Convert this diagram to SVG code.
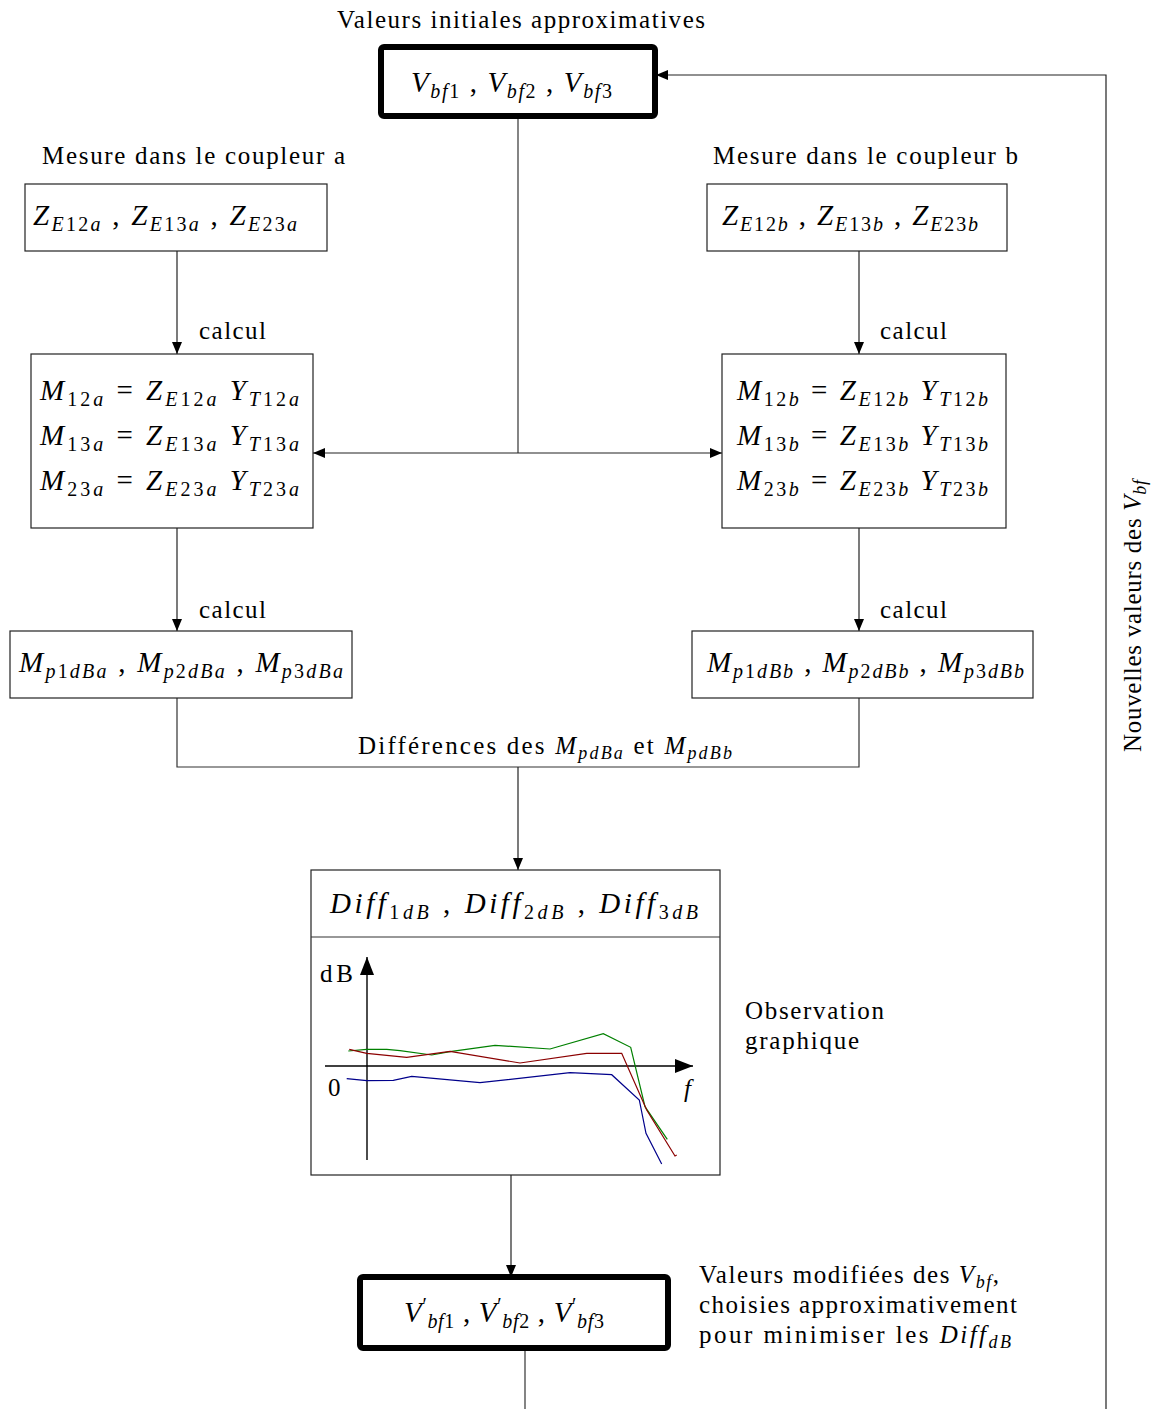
<svg xmlns="http://www.w3.org/2000/svg" width="1154" height="1409" viewBox="0 0 1154 1409">
<defs>
<marker id="ah" viewBox="0 0 12 10" refX="12" refY="5" markerWidth="12" markerHeight="10" markerUnits="userSpaceOnUse" orient="auto"><path d="M0,0 L12,5 L0,10 z" fill="#000"/></marker>
<marker id="ah2" viewBox="0 0 18 14" refX="18" refY="7" markerWidth="18" markerHeight="14" markerUnits="userSpaceOnUse" orient="auto"><path d="M0,0 L18,7 L0,14 z" fill="#000"/></marker>
</defs>
<style>
text{font-family:"Liberation Serif","Times New Roman",serif;fill:#000}
.t{font-size:25px}
.m{font-size:29px}
.i{font-style:italic}
.box{fill:#fff;stroke:#222;stroke-width:1.2}
.bold{fill:#fff;stroke:#000;stroke-width:6}
.ln{fill:none;stroke:#333;stroke-width:1.2}
.ar{fill:none;stroke:#222;stroke-width:1.2;marker-end:url(#ah)}
</style>
<rect width="1154" height="1409" fill="#fff"/>

<g id="connectors">
<polyline class="ln" points="518,116 518,453"/>
<line class="ar" x1="518" y1="453" x2="313" y2="453"/>
<line class="ar" x1="518" y1="453" x2="722" y2="453"/>
<polyline class="ar" points="1106,1409 1106,75 656,75"/>
<line class="ar" x1="177" y1="251" x2="177" y2="354"/>
<line class="ar" x1="859" y1="251" x2="859" y2="354"/>
<line class="ar" x1="177" y1="528" x2="177" y2="631"/>
<line class="ar" x1="859" y1="528" x2="859" y2="631"/>
<polyline class="ln" points="177,698 177,767 859,767 859,698"/>
<line class="ar" x1="518" y1="767" x2="518" y2="870"/>
<line class="ar" x1="511" y1="1175" x2="511" y2="1277"/>
<line class="ln" x1="525" y1="1348" x2="525" y2="1409"/>
<text class="t" x="199" y="339" textLength="67" lengthAdjust="spacing">calcul</text>
<text class="t" x="880" y="339" textLength="67" lengthAdjust="spacing">calcul</text>
<text class="t" x="199" y="618" textLength="67" lengthAdjust="spacing">calcul</text>
<text class="t" x="880" y="618" textLength="67" lengthAdjust="spacing">calcul</text>
<text class="t" x="358" y="754" textLength="374" lengthAdjust="spacing">Différences des <tspan class="i">M</tspan><tspan class="i" font-size="18" dy="5">pdBa</tspan><tspan dy="-5"> et </tspan><tspan class="i">M</tspan><tspan class="i" font-size="18" dy="5">pdBb</tspan></text>
<text x="1141" y="616" class="t" text-anchor="middle" textLength="272" lengthAdjust="spacing" transform="rotate(-90 1141 616)">Nouvelles valeurs des <tspan class="i">V</tspan><tspan class="i" font-size="18" dy="5">bf</tspan></text>
</g>

<g id="title">
<text class="t" x="337" y="28" textLength="368" lengthAdjust="spacing">Valeurs initiales approximatives</text>
</g>

<g id="vbf">
<rect class="bold" x="381" y="47" width="274" height="69" rx="3"/>
<text class="m" x="411" y="92" textLength="201" lengthAdjust="spacing"><tspan class="i">V</tspan><tspan font-size="20" dy="6"><tspan class="i">bf</tspan>1</tspan><tspan dy="-6"> , </tspan><tspan class="i">V</tspan><tspan font-size="20" dy="6"><tspan class="i">bf</tspan>2</tspan><tspan dy="-6"> , </tspan><tspan class="i">V</tspan><tspan font-size="20" dy="6"><tspan class="i">bf</tspan>3</tspan></text>
</g>

<g id="labelA"><text class="t" x="42" y="164" textLength="303" lengthAdjust="spacing">Mesure dans le coupleur a</text></g>
<g id="labelB"><text class="t" x="713" y="164" textLength="305" lengthAdjust="spacing">Mesure dans le coupleur b</text></g>

<g id="ZA">
<rect class="box" x="25" y="184" width="302" height="67"/>
<text class="m" x="33" y="225" textLength="264" lengthAdjust="spacing"><tspan class="i">Z</tspan><tspan font-size="20" dy="6"><tspan class="i">E</tspan>12<tspan class="i">a</tspan></tspan><tspan dy="-6"> , </tspan><tspan class="i">Z</tspan><tspan font-size="20" dy="6"><tspan class="i">E</tspan>13<tspan class="i">a</tspan></tspan><tspan dy="-6"> , </tspan><tspan class="i">Z</tspan><tspan font-size="20" dy="6"><tspan class="i">E</tspan>23<tspan class="i">a</tspan></tspan></text>
</g>
<g id="ZB">
<rect class="box" x="707" y="184" width="300" height="67"/>
<text class="m" x="722" y="225" textLength="256" lengthAdjust="spacing"><tspan class="i">Z</tspan><tspan font-size="20" dy="6"><tspan class="i">E</tspan>12<tspan class="i">b</tspan></tspan><tspan dy="-6"> , </tspan><tspan class="i">Z</tspan><tspan font-size="20" dy="6"><tspan class="i">E</tspan>13<tspan class="i">b</tspan></tspan><tspan dy="-6"> , </tspan><tspan class="i">Z</tspan><tspan font-size="20" dy="6"><tspan class="i">E</tspan>23<tspan class="i">b</tspan></tspan></text>
</g>

<g id="MA">
<rect class="box" x="31" y="354" width="282" height="174"/>
<text class="m" x="40" y="400" textLength="259" lengthAdjust="spacing"><tspan class="i">M</tspan><tspan font-size="20" dy="6">12<tspan class="i">a</tspan></tspan><tspan dy="-6">  =  </tspan><tspan class="i">Z</tspan><tspan font-size="20" dy="6"><tspan class="i">E</tspan>12<tspan class="i">a</tspan></tspan><tspan dy="-6" class="i"> Y</tspan><tspan font-size="20" dy="6"><tspan class="i">T</tspan>12<tspan class="i">a</tspan></tspan></text>
<text class="m" x="40" y="445" textLength="259" lengthAdjust="spacing"><tspan class="i">M</tspan><tspan font-size="20" dy="6">13<tspan class="i">a</tspan></tspan><tspan dy="-6">  =  </tspan><tspan class="i">Z</tspan><tspan font-size="20" dy="6"><tspan class="i">E</tspan>13<tspan class="i">a</tspan></tspan><tspan dy="-6" class="i"> Y</tspan><tspan font-size="20" dy="6"><tspan class="i">T</tspan>13<tspan class="i">a</tspan></tspan></text>
<text class="m" x="40" y="490" textLength="259" lengthAdjust="spacing"><tspan class="i">M</tspan><tspan font-size="20" dy="6">23<tspan class="i">a</tspan></tspan><tspan dy="-6">  =  </tspan><tspan class="i">Z</tspan><tspan font-size="20" dy="6"><tspan class="i">E</tspan>23<tspan class="i">a</tspan></tspan><tspan dy="-6" class="i"> Y</tspan><tspan font-size="20" dy="6"><tspan class="i">T</tspan>23<tspan class="i">a</tspan></tspan></text>
</g>
<g id="MB">
<rect class="box" x="722" y="354" width="284" height="174"/>
<text class="m" x="737" y="400" textLength="251" lengthAdjust="spacing"><tspan class="i">M</tspan><tspan font-size="20" dy="6">12<tspan class="i">b</tspan></tspan><tspan dy="-6">  =  </tspan><tspan class="i">Z</tspan><tspan font-size="20" dy="6"><tspan class="i">E</tspan>12<tspan class="i">b</tspan></tspan><tspan dy="-6" class="i"> Y</tspan><tspan font-size="20" dy="6"><tspan class="i">T</tspan>12<tspan class="i">b</tspan></tspan></text>
<text class="m" x="737" y="445" textLength="251" lengthAdjust="spacing"><tspan class="i">M</tspan><tspan font-size="20" dy="6">13<tspan class="i">b</tspan></tspan><tspan dy="-6">  =  </tspan><tspan class="i">Z</tspan><tspan font-size="20" dy="6"><tspan class="i">E</tspan>13<tspan class="i">b</tspan></tspan><tspan dy="-6" class="i"> Y</tspan><tspan font-size="20" dy="6"><tspan class="i">T</tspan>13<tspan class="i">b</tspan></tspan></text>
<text class="m" x="737" y="490" textLength="251" lengthAdjust="spacing"><tspan class="i">M</tspan><tspan font-size="20" dy="6">23<tspan class="i">b</tspan></tspan><tspan dy="-6">  =  </tspan><tspan class="i">Z</tspan><tspan font-size="20" dy="6"><tspan class="i">E</tspan>23<tspan class="i">b</tspan></tspan><tspan dy="-6" class="i"> Y</tspan><tspan font-size="20" dy="6"><tspan class="i">T</tspan>23<tspan class="i">b</tspan></tspan></text>
</g>

<g id="MPA">
<rect class="box" x="10" y="631" width="342" height="67"/>
<text class="m" x="19" y="672" textLength="324" lengthAdjust="spacing"><tspan class="i">M</tspan><tspan font-size="20" dy="6"><tspan class="i">p</tspan>1<tspan class="i">dBa</tspan></tspan><tspan dy="-6"> , </tspan><tspan class="i">M</tspan><tspan font-size="20" dy="6"><tspan class="i">p</tspan>2<tspan class="i">dBa</tspan></tspan><tspan dy="-6"> , </tspan><tspan class="i">M</tspan><tspan font-size="20" dy="6"><tspan class="i">p</tspan>3<tspan class="i">dBa</tspan></tspan></text>
</g>
<g id="MPB">
<rect class="box" x="692" y="631" width="341" height="67"/>
<text class="m" x="707" y="672" textLength="317" lengthAdjust="spacing"><tspan class="i">M</tspan><tspan font-size="20" dy="6"><tspan class="i">p</tspan>1<tspan class="i">dBb</tspan></tspan><tspan dy="-6"> , </tspan><tspan class="i">M</tspan><tspan font-size="20" dy="6"><tspan class="i">p</tspan>2<tspan class="i">dBb</tspan></tspan><tspan dy="-6"> , </tspan><tspan class="i">M</tspan><tspan font-size="20" dy="6"><tspan class="i">p</tspan>3<tspan class="i">dBb</tspan></tspan></text>
</g>

<g id="diff">
<rect class="box" x="311" y="870" width="409" height="305"/>
<line class="ln" x1="311" y1="937" x2="720" y2="937"/>
<text class="m" x="330" y="913" textLength="368" lengthAdjust="spacing"><tspan class="i">Diff</tspan><tspan font-size="20" dy="6">1<tspan class="i">dB</tspan></tspan><tspan dy="-6"> , </tspan><tspan class="i">Diff</tspan><tspan font-size="20" dy="6">2<tspan class="i">dB</tspan></tspan><tspan dy="-6"> , </tspan><tspan class="i">Diff</tspan><tspan font-size="20" dy="6">3<tspan class="i">dB</tspan></tspan></text>
<line x1="367" y1="1160" x2="367" y2="957" stroke="#000" stroke-width="1.4" marker-end="url(#ah2)"/>
<line x1="325" y1="1066" x2="693" y2="1066" stroke="#000" stroke-width="1.4" marker-end="url(#ah2)"/>
<text class="t" x="320" y="982" textLength="33" lengthAdjust="spacing">dB</text>
<text class="t" x="328" y="1096">0</text>
<text class="t i" x="684" y="1097">f</text>
<polyline fill="none" stroke="#008000" stroke-width="1.2" points="348.3,1051 366.7,1049.3 386.7,1049.3 400,1050.7 431.7,1055 450,1051.7 495,1045.3 550,1049 603.3,1033.7 630.7,1047.3 645,1106.7 667.3,1139.3"/>
<polyline fill="none" stroke="#8b0000" stroke-width="1.2" points="349.3,1049.3 366.7,1053.3 406.7,1057.3 450,1051.3 520,1063 586.7,1053.3 621.7,1053.3 646.7,1110 675,1156 676.7,1155"/>
<polyline fill="none" stroke="#00008b" stroke-width="1.2" points="346.7,1078.7 366.7,1080.7 393.3,1080.3 411.7,1076.3 480,1082.7 570,1072.7 611.7,1074.7 639.3,1100 646,1133.3 661.7,1164"/>
</g>

<g id="obs">
<text class="t" x="745" y="1019" textLength="139" lengthAdjust="spacing">Observation</text>
<text class="t" x="745" y="1049" textLength="114" lengthAdjust="spacing">graphique</text>
</g>

<g id="vbfprime">
<rect class="bold" x="360" y="1277" width="308" height="71" rx="3"/>
<text class="m" x="404" y="1322" textLength="200" lengthAdjust="spacing"><tspan class="i">V</tspan><tspan font-size="20" dy="-10">′</tspan><tspan font-size="20" dy="16"><tspan class="i">bf</tspan>1</tspan><tspan dy="-6"> , </tspan><tspan class="i">V</tspan><tspan font-size="20" dy="-10">′</tspan><tspan font-size="20" dy="16"><tspan class="i">bf</tspan>2</tspan><tspan dy="-6"> , </tspan><tspan class="i">V</tspan><tspan font-size="20" dy="-10">′</tspan><tspan font-size="20" dy="16"><tspan class="i">bf</tspan>3</tspan></text>
</g>

<g id="modnote">
<text class="t" x="699" y="1283" textLength="300" lengthAdjust="spacing">Valeurs modifiées des <tspan class="i">V</tspan><tspan class="i" font-size="18" dy="5">bf</tspan><tspan dy="-5">,</tspan></text>
<text class="t" x="699" y="1313" textLength="318" lengthAdjust="spacing">choisies approximativement</text>
<text class="t" x="699" y="1343" textLength="312" lengthAdjust="spacing">pour minimiser les <tspan class="i">Diff</tspan><tspan class="i" font-size="18" dy="5">dB</tspan></text>
</g>
</svg>
